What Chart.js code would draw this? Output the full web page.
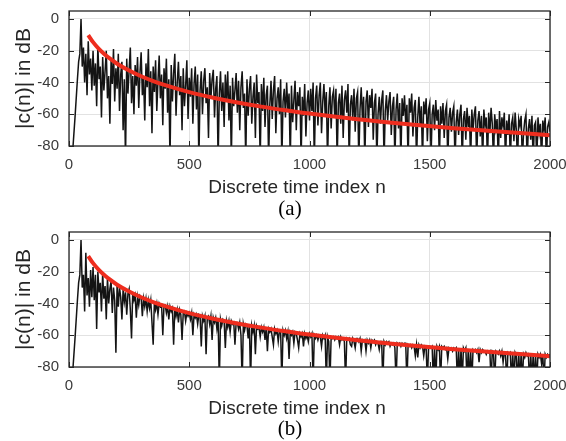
<!DOCTYPE html>
<html>
<head>
<meta charset="utf-8">
<script src="https://cdn.jsdelivr.net/npm/chart.js@4.4.0/dist/chart.umd.min.js"></script>
<style>
    body { margin: 0; background: #fff; width: 566px; height: 441px; position: relative; overflow: hidden; font-family: "Liberation Sans", Arial, sans-serif; }
    .panel { position: absolute; left: 0; width: 566px; height: 220px; }
    .xlab { position: absolute; left: 0; width: 594px; text-align: center; font-size: 19px; line-height: 22px; color: #262626; }
    .cap { position: absolute; left: 0; width: 580px; text-align: center; font-family: "Liberation Serif", serif; font-size: 21px; line-height: 24px; color: #000; }
</style>
</head>
<body>
<div class="panel" style="top:0"><canvas id="plotA" width="566" height="220"></canvas></div>
<div class="panel" style="top:221px"><canvas id="plotB" width="566" height="220"></canvas></div>
<div class="xlab" style="top:176px">Discrete time index n</div>
<div class="cap" style="top:196px">(a)</div>
<div class="xlab" style="top:397px">Discrete time index n</div>
<div class="cap" style="top:416px">(b)</div>
<script>
// sample spacing of the stored signals (every 5th sample)
const STEP = 5;

const xTicks = [0, 500, 1000, 1500, 2000];
const yTicks = [-80, -60, -40, -20, 0];

// |c(n)| in dB, panel (a), n = 0, 5, 10, ... 2000
const sigA = [
    -130, -115, -100, -84, -73, -62, -50, -38, -27, -22, 0, -30, -18, -40, -22, -48, -14, -35, -25, -45,
    -20, -42, -28, -55, -17, -38, -30, -62, -24, -45, -33, -20, -50, -36, -66, -26, -41, -19, -52, -31,
    -44, -22, -58, -35, -27, -70, -38, -90, -25, -47, -32, -18, -53, -36, -60, -29, -42, -24, -56, -34,
    -21, -48, -37, -64, -28, -43, -19, -55, -33, -72, -30, -46, -26, -58, -39, -23, -50, -35, -67, -31,
    -44, -25, -59, -38, -90, -29, -52, -34, -22, -61, -40, -27, -48, -36, -70, -31, -55, -42, -26, -63,
    -37, -49, -31, -66, -41, -30, -57, -35, -90, -45, -33, -60, -39, -31, -53, -43, -75, -34, -50, -38,
    -32, -62, -44, -36, -90, -47, -33, -58, -40, -68, -35, -52, -33, -64, -42, -90, -37, -55, -45, -34,
    -59, -39, -70, -43, -33, -56, -47, -90, -38, -61, -44, -36, -66, -49, -40, -75, -35, -53, -46, -90,
    -41, -58, -37, -68, -48, -42, -90, -54, -39, -63, -45, -36, -72, -50, -43, -60, -38, -90, -52, -44,
    -62, -40, -57, -47, -90, -42, -65, -51, -39, -70, -46, -55, -43, -90, -49, -61, -41, -74, -53, -45,
    -64, -44, -58, -40, -90, -50, -42, -67, -48, -40, -72, -52, -41, -60, -46, -90, -55, -43, -69, -49,
    -45, -62, -44, -90, -53, -47, -66, -42, -75, -51, -45, -59, -41, -90, -54, -48, -64, -44, -71, -50,
    -46, -90, -57, -43, -63, -49, -90, -52, -45, -68, -48, -56, -44, -76, -53, -47, -90, -60, -49, -66,
    -51, -45, -90, -58, -48, -64, -52, -46, -73, -55, -49, -90, -57, -47, -69, -53, -90, -50, -61, -48,
    -66, -54, -90, -50, -59, -47, -74, -56, -51, -90, -62, -49, -68, -55, -90, -52, -60, -50, -77, -57,
    -53, -90, -60, -54, -70, -51, -64, -57, -90, -55, -66, -53, -75, -58, -54, -90, -62, -56, -71, -59,
    -55, -90, -65, -57, -73, -60, -54, -90, -63, -58, -76, -56, -68, -61, -90, -57, -70, -60, -55, -90,
    -64, -58, -74, -61, -90, -57, -67, -62, -90, -59, -72, -56, -66, -90, -60, -69, -63, -90, -58, -75,
    -62, -68, -59, -90, -64, -73, -60, -90, -66, -62, -77, -59, -70, -90, -63, -67, -61, -90, -72, -64,
    -60, -90, -69, -63, -76, -61, -90, -67, -65, -90, -62, -72, -66, -90, -64, -70, -62, -90, -68, -65,
    -71
];

// |c(n)| in dB, panel (b), n = 0, 5, 10, ... 2000
const sigB = [
    -130, -115, -100, -84, -73, -62, -50, -38, -27, -22, 0, -30, -22, -45, -8, -35, -24, -42, -19, -36,
    -17, -38, -22, -56, -20, -33, -27, -45, -21, -37, -29, -50, -24, -40, -31, -26, -46, -30, -38, -71,
    -28, -42, -30, -36, -50, -31, -39, -33, -47, -34, -31, -44, -62, -33, -38, -35, -49, -36, -41, -35,
    -36, -48, -37, -42, -37, -45, -38, -43, -38, -52, -66, -39, -44, -40, -47, -40, -42, -41, -60, -41,
    -41, -46, -42, -50, -42, -45, -43, -66, -43, -48, -44, -52, -44, -47, -63, -46, -45, -51, -46, -48,
    -46, -50, -46, -60, -47, -49, -47, -53, -47, -48, -67, -48, -51, -48, -72, -49, -48, -53, -48, -63,
    -49, -52, -49, -56, -50, -90, -50, -54, -50, -51, -68, -51, -55, -51, -58, -51, -53, -52, -66, -52,
    -52, -56, -52, -60, -90, -53, -57, -53, -54, -62, -53, -90, -54, -58, -54, -72, -54, -56, -55, -61,
    -55, -58, -55, -63, -55, -70, -56, -58, -56, -61, -66, -56, -59, -57, -64, -57, -58, -90, -57, -60,
    -57, -62, -58, -75, -58, -60, -58, -65, -58, -59, -63, -68, -59, -61, -59, -67, -59, -62, -60, -64,
    -59, -61, -59, -90, -60, -62, -60, -63, -60, -61, -67, -60, -62, -60, -90, -61, -64, -90, -61, -62,
    -61, -63, -61, -62, -61, -66, -61, -63, -62, -64, -90, -62, -63, -62, -66, -67, -62, -64, -68, -62,
    -62, -64, -62, -70, -63, -64, -63, -70, -63, -65, -63, -68, -63, -64, -63, -66, -64, -65, -69, -64,
    -64, -90, -64, -66, -64, -65, -64, -67, -65, -66, -65, -68, -90, -65, -66, -65, -67, -65, -66, -65,
    -65, -90, -66, -67, -66, -68, -66, -67, -73, -66, -74, -66, -68, -66, -67, -73, -67, -68, -90, -67,
    -67, -68, -67, -90, -67, -90, -67, -69, -67, -90, -67, -68, -67, -69, -68, -75, -68, -69, -68, -70,
    -68, -69, -68, -90, -68, -90, -68, -90, -68, -70, -68, -90, -69, -90, -69, -90, -69, -70, -69, -71,
    -69, -77, -69, -71, -69, -70, -70, -72, -70, -71, -70, -90, -70, -71, -90, -70, -71, -72, -70, -73,
    -70, -77, -71, -72, -90, -71, -72, -71, -90, -71, -90, -71, -73, -90, -71, -90, -71, -90, -72, -74,
    -71, -73, -72, -90, -72, -90, -72, -90, -72, -90, -72, -74, -72, -78, -72, -90, -72, -74, -72, -73,
    -72
];

// red reference curve (same in both panels)
const redN  = [80, 100, 125, 150, 175, 200, 250, 300, 350, 400, 500, 600, 700, 800, 900, 1000, 1200, 1400, 1600, 1800, 2000];
const redDb = [-10.2, -14.6, -19.0, -22.5, -25.5, -28.2, -32.5, -36.1, -39.1, -41.7, -46.1, -49.6, -52.6, -55.2, -57.5, -59.6, -63.2, -66.2, -68.8, -71.1, -73.2];

// matlab style box with inward ticks
const boxPlugin = {
    id: 'box',
    afterDatasetsDraw(chart) {
        const { ctx, chartArea: a, scales: { x, y } } = chart;
        ctx.save();
        ctx.strokeStyle = '#262626';
        ctx.lineWidth = 1;
        ctx.beginPath();
        xTicks.forEach(v => {
            const px = Math.round(x.getPixelForValue(v)) + 0.5;
            ctx.moveTo(px, a.bottom); ctx.lineTo(px, a.bottom - 5);
            ctx.moveTo(px, a.top); ctx.lineTo(px, a.top + 5);
        });
        yTicks.forEach(v => {
            const py = Math.round(y.getPixelForValue(v)) + 0.5;
            ctx.moveTo(a.left, py); ctx.lineTo(a.left + 5, py);
            ctx.moveTo(a.right, py); ctx.lineTo(a.right - 5, py);
        });
        ctx.stroke();
        ctx.lineWidth = 1.3;
        ctx.strokeRect(a.left, a.top, a.right - a.left, a.bottom - a.top);
        ctx.restore();
    }
};

function makePlot(id, sig) {
    const ctx = document.getElementById(id).getContext('2d');
    new Chart(ctx, {
        type: 'line',
        data: {
            datasets: [{
                data: sig.map((v, i) => ({ x: i * STEP, y: v })),
                borderColor: '#141414',
                borderWidth: 1.5,
                pointRadius: 0,
                tension: 0,
                order: 2
            }, {
                // red curve drawn on top of the signal
                data: redN.map((n, i) => ({ x: n, y: redDb[i] })),
                borderColor: '#ee2d1e',
                borderWidth: 4,
                pointRadius: 0,
                cubicInterpolationMode: 'monotone',
                order: 1
            }]
        },
        options: {
            responsive: false,
            animation: false,
            events: [],
            layout: { padding: { top: 11, right: 16, left: 0, bottom: 0 } },
            plugins: { legend: { display: false }, tooltip: { enabled: false } },
            scales: {
                x: {
                    type: 'linear',
                    min: 0,
                    max: 2000,
                    afterBuildTicks: s => { s.ticks = xTicks.map(v => ({ value: v })); },
                    afterFit: s => { s.height = 74; s.paddingLeft = 0; s.paddingRight = 0; },
                    grid: { color: '#e2e2e2', drawTicks: false },
                    border: { display: false },
                    ticks: {
                        padding: 10, color: '#3a3a3a', maxRotation: 0,
                        font: { size: 15, family: 'Liberation Sans' },
                        callback: v => String(v)
                    }
                },
                y: {
                    min: -80,
                    max: 5,
                    afterBuildTicks: s => { s.ticks = yTicks.map(v => ({ value: v })); },
                    afterFit: s => { s.width = 69; s.paddingTop = 0; s.paddingBottom = 0; },
                    grid: { color: '#e2e2e2', drawTicks: false },
                    border: { display: false },
                    ticks: {
                        padding: 10, color: '#3a3a3a',
                        font: { size: 15, family: 'Liberation Sans' },
                        callback: v => String(v)
                    },
                    title: {
                        display: true,
                        text: '|c(n)| in dB',
                        color: '#262626',
                        font: { size: 21, family: 'Liberation Sans' },
                        padding: { top: 12, bottom: 0 }
                    }
                }
            }
        },
        plugins: [boxPlugin]
    });
}

makePlot('plotA', sigA);
makePlot('plotB', sigB);
</script>
</body>
</html>
